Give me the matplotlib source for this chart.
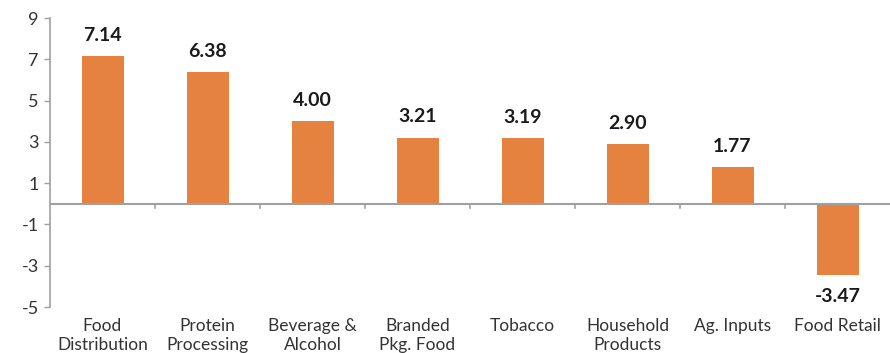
import matplotlib
matplotlib.use("Agg")
import matplotlib.pyplot as plt
import numpy as np

categories = ["Food\nDistribution", "Protein\nProcessing", "Beverage &\nAlcohol",
              "Branded\nPkg. Food", "Tobacco", "Household\nProducts",
              "Ag. Inputs", "Food Retail"]
values = [7.14, 6.38, 4.00, 3.21, 3.19, 2.90, 1.77, -3.47]
yticks = [9, 7, 5, 3, 1, -1, -3, -5]

bar_color = "#E5823F"
axis_color = "#A0A0A0"
text_color = "#333333"

plt.rcParams["font.family"] = ["Lato", "DejaVu Sans"]

fig = plt.figure(figsize=(8.9, 3.53), dpi=100)
ax = fig.add_axes([50 / 890, 1 - 307 / 353, 840 / 890, (307 - 18) / 353])

x = np.arange(len(categories))
ax.bar(x, values, width=0.4, color=bar_color, zorder=2)

ax.set_xlim(-0.5, len(categories) - 0.5)
ax.set_ylim(-5, 9)
ax.set_yticks(yticks)
ax.set_yticklabels([str(t) for t in yticks], fontsize=13, color=text_color)
ax.tick_params(axis="y", length=4, width=1, color=axis_color, pad=4)

ax.set_xticks(x)
ax.set_xticklabels(categories, fontsize=12.5, color=text_color, linespacing=1.25)
ax.tick_params(axis="x", length=0, pad=8)

for s in ["top", "right", "bottom"]:
    ax.spines[s].set_visible(False)
ax.spines["left"].set_color(axis_color)
ax.spines["left"].set_linewidth(1.2)

# zero line with category separators
ax.axhline(0, color=axis_color, linewidth=1.5, zorder=3)
for b in np.arange(0.5, len(categories) - 0.5, 1.0):
    ax.plot([b, b], [0, -0.22], color=axis_color, linewidth=1.2, zorder=3,
            clip_on=False)

for xi, v in zip(x, values):
    if v >= 0:
        ax.text(xi, v + 0.6, f"{v:.2f}", ha="center", va="bottom",
                fontsize=14, fontweight="bold", color="#1a1a1a")
    else:
        ax.text(xi, v - 0.6, f"{v:.2f}", ha="center", va="top",
                fontsize=14, fontweight="bold", color="#1a1a1a")

fig.savefig("out.png", dpi=100)
